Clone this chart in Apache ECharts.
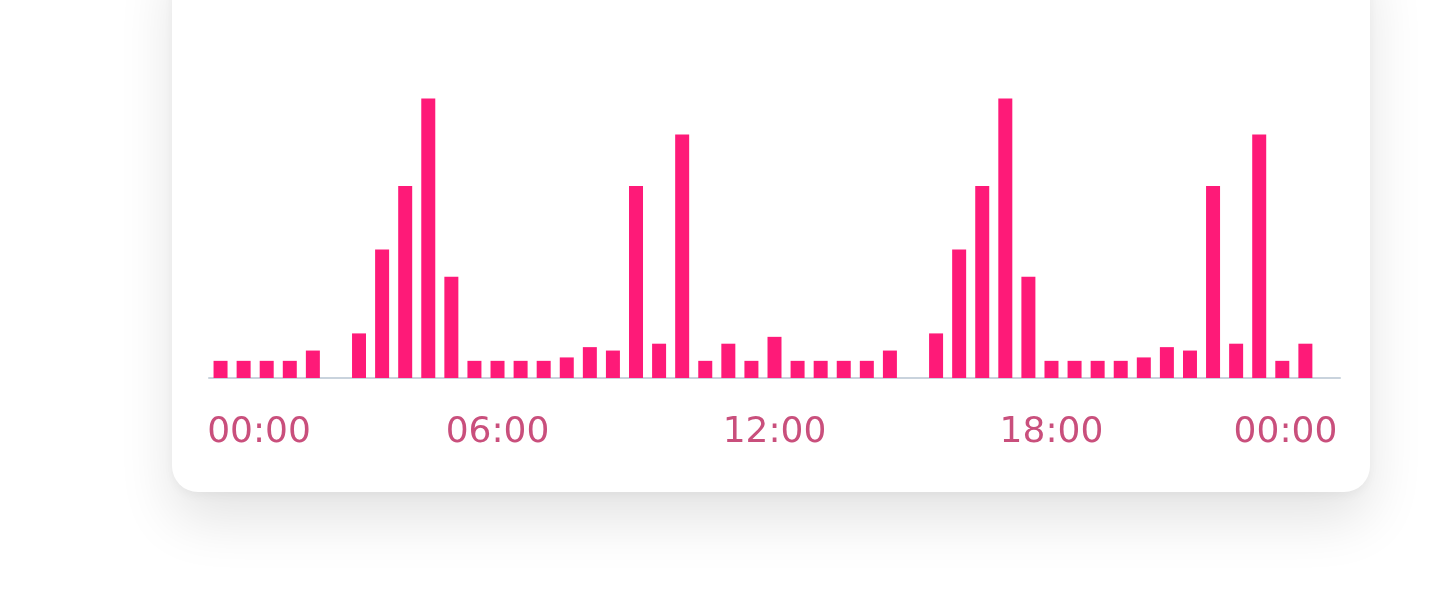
<!DOCTYPE html>
<html>
<head>
<meta charset="utf-8">
<script src="https://cdn.jsdelivr.net/npm/echarts@6/dist/echarts.min.js"></script>
<style>
  html, body { margin: 0; padding: 0; background: #ffffff; width: 1440px; height: 607px; overflow: hidden; }
  #card {
    position: absolute; left: 172px; top: -60px; width: 1198px; height: 552px;
    background: #ffffff; border-radius: 26px;
    box-shadow: 0 28px 55px rgba(0,0,0,0.11), 0 4px 10px rgba(0,0,0,0.04);
  }
  #chart { position: absolute; left: 0; top: 0; width: 1440px; height: 607px; }
</style>
</head>
<body>
<div id="card"></div>
<div id="chart"></div>
<script>
// Half-hour slots across one day, plus the closing midnight slot
const categories = [
  '00:00','00:30','01:00','01:30','02:00','02:30','03:00','03:30',
  '04:00','04:30','05:00','05:30','06:00','06:30','07:00','07:30',
  '08:00','08:30','09:00','09:30','10:00','10:30','11:00','11:30',
  '12:00','12:30','13:00','13:30','14:00','14:30','15:00','15:30',
  '16:00','16:30','17:00','17:30','18:00','18:30','19:00','19:30',
  '20:00','20:30','21:00','21:30','22:00','22:30','23:00','23:30',
  '00:00'
];
const values = [
  5, 5, 5, 5, 8, 0, 13, 37.5, 56, 81.5, 29.5, 5,
  5, 5, 5, 6, 9, 8, 56, 10, 71, 5, 10, 5,
  12, 5, 5, 5, 5, 8, 0, 13, 37.5, 56, 81.5, 29.5,
  5, 5, 5, 5, 6, 9, 8, 56, 10, 71, 5, 10,
  null
];
const labelIndices = [0, 12, 24, 36, 48];

const chart = echarts.init(document.getElementById('chart'), null, { renderer: 'canvas' });
const labelColor = '#C94F7C';
const font = { fontFamily: 'DejaVu Sans', fontSize: 36, color: labelColor };

chart.setOption({
  backgroundColor: 'transparent',
  animation: false,
  grid: { left: 209, right: 100, top: 35, bottom: 229, containLabel: false },
  xAxis: {
    type: 'category',
    data: categories,
    boundaryGap: true,
    axisLine: { show: true, lineStyle: { color: '#C9D3DD', width: 2 } },
    axisTick: { show: false },
    splitLine: { show: false },
    axisLabel: {
      interval: function (index) { return labelIndices.indexOf(index) !== -1; },
      margin: 37,
      fontFamily: font.fontFamily,
      fontSize: font.fontSize,
      color: labelColor,
      formatter: function (value, index) {
        if (index === 0) return '{first|' + value + '}';
        if (index === categories.length - 1) return '{last|' + value + '}';
        return '{mid|' + value + '}';
      },
      rich: {
        first: Object.assign({ padding: [0, 0, 0, 77] }, font),
        last: Object.assign({ padding: [0, 86, 0, 0] }, font),
        mid: Object.assign({}, font)
      }
    }
  },
  yAxis: {
    type: 'value',
    min: 0,
    max: 100,
    show: false,
    splitLine: { show: false }
  },
  series: [{
    type: 'bar',
    data: values,
    barWidth: 14,
    itemStyle: { color: '#FE1A78' },
    emphasis: { disabled: true }
  }]
});
</script>
</body>
</html>
